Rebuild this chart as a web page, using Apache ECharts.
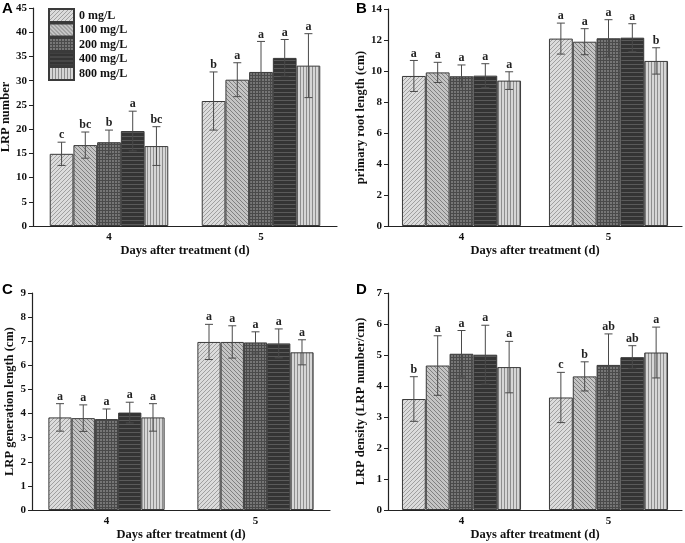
<!DOCTYPE html>
<html>
<head>
<meta charset="utf-8">
<script src="https://cdn.jsdelivr.net/npm/echarts@6/dist/echarts.min.js"></script>
<style>
  html, body { margin: 0; padding: 0; background: #fff; }
  #main { width: 685px; height: 543px; }
</style>
</head>
<body>
<div id="main"></div>
<script>
// concentrations and days
var concs = ['0 mg/L', '100 mg/L', '200 mg/L', '400 mg/L', '800 mg/L'];
var days = ['4', '5'];
var xTitle = 'Days after treatment (d)';

// A - LRP number (row = day, col = concentration)
var lrpMean = [[14.9, 16.7, 17.3, 19.6, 16.5], [25.8, 30.2, 31.8, 34.7, 33.1]];
var lrpSd = [[2.4, 2.7, 2.5, 4.1, 4.0], [6.0, 3.5, 6.3, 3.8, 6.6]];
var lrpSig = [['c', 'bc', 'b', 'a', 'bc'], ['b', 'a', 'a', 'a', 'a']];

// B - primary root length
var rootMean = [[9.68, 9.91, 9.66, 9.70, 9.38], [12.09, 11.89, 12.11, 12.15, 10.65]];
var rootSd = [[1.0, 0.65, 0.73, 0.77, 0.57], [1.0, 0.84, 1.2, 0.9, 0.85]];
var rootSig = [['a', 'a', 'a', 'a', 'a'], ['a', 'a', 'a', 'a', 'b']];

// C - LRP generation length
var genMean = [[3.84, 3.81, 3.77, 4.04, 3.84], [6.97, 6.97, 6.95, 6.91, 6.54]];
var genSd = [[0.57, 0.55, 0.42, 0.43, 0.57], [0.73, 0.67, 0.44, 0.6, 0.52]];
var genSig = [['a', 'a', 'a', 'a', 'a'], ['a', 'a', 'a', 'a', 'a']];

// D - LRP density
var denMean = [[3.58, 4.66, 5.04, 5.01, 4.61], [3.63, 4.31, 4.68, 4.93, 5.08]];
var denSd = [[0.72, 0.96, 0.75, 0.95, 0.83], [0.81, 0.47, 1.0, 0.37, 0.82]];
var denSig = [['b', 'a', 'a', 'a', 'a'], ['c', 'b', 'ab', 'ab', 'a']];

var serif = '"Liberation Serif", "DejaVu Serif", serif';

// fill patterns for the 5 concentrations
function makePattern(kind) {
    var c = document.createElement('canvas');
    var g = c.getContext('2d');
    if (kind == 0) {            // light, "/" hatch
        c.width = c.height = 4;
        g.fillStyle = '#dcdcdc'; g.fillRect(0, 0, 4, 4);
        g.strokeStyle = '#a0a0a0'; g.lineWidth = 1;
        g.beginPath(); g.moveTo(0, 4); g.lineTo(4, 0);
        g.moveTo(-1, 1); g.lineTo(1, -1); g.moveTo(3, 5); g.lineTo(5, 3); g.stroke();
    } else if (kind == 1) {     // mid, "\" hatch
        c.width = c.height = 4;
        g.fillStyle = '#c4c4c4'; g.fillRect(0, 0, 4, 4);
        g.strokeStyle = '#808080'; g.lineWidth = 1;
        g.beginPath(); g.moveTo(0, 0); g.lineTo(4, 4);
        g.moveTo(-1, 3); g.lineTo(1, 5); g.moveTo(3, -1); g.lineTo(5, 1); g.stroke();
    } else if (kind == 2) {     // dark dotted grid
        c.width = c.height = 3;
        g.fillStyle = '#767676'; g.fillRect(0, 0, 3, 3);
        g.fillStyle = '#4a4a4a'; g.fillRect(0, 0, 3, 1); g.fillRect(0, 0, 1, 3);
    } else if (kind == 3) {     // very dark, horizontal lines
        c.width = 4; c.height = 4;
        g.fillStyle = '#343434'; g.fillRect(0, 0, 4, 4);
        g.fillStyle = '#5a5a5a'; g.fillRect(0, 0, 4, 1);
    } else {                    // light, vertical lines
        c.width = 3; c.height = 4;
        g.fillStyle = '#d6d6d6'; g.fillRect(0, 0, 3, 4);
        g.fillStyle = '#8e8e8e'; g.fillRect(0, 0, 1, 4);
    }
    return { image: c, repeat: 'repeat' };
}
var patterns = [0, 1, 2, 3, 4].map(makePattern);

var panels = [
    { mean: lrpMean, sd: lrpSd, sig: lrpSig, name: 'LRP number', max: 45, step: 5, gap: 0.22, nameGap: 17,
      grid: { left: 33, top: 8, width: 304, height: 218 } },
    { mean: rootMean, sd: rootSd, sig: rootSig, name: 'primary root length (cm)', max: 14, step: 2, gap: 0.19, nameGap: 21,
      grid: { left: 388, top: 9, width: 294, height: 217 } },
    { mean: genMean, sd: genSd, sig: genSig, name: 'LRP generation length (cm)', max: 9, step: 1, gap: 0.22, nameGap: 15,
      grid: { left: 32, top: 293, width: 298, height: 217 } },
    { mean: denMean, sd: denSd, sig: denSig, name: 'LRP density (LRP number/cm)', max: 7, step: 1, gap: 0.19, nameGap: 21,
      grid: { left: 388, top: 293, width: 294, height: 217 } }
];

var axisLine = { lineStyle: { color: '#222', width: 1.2 } };
var tickLabel = { fontFamily: serif, fontWeight: 'bold', fontSize: 11, color: '#111' };
var titleFont = { fontFamily: serif, fontWeight: 'bold', fontSize: 12.5, color: '#111' };

var grids = [], xAxes = [], yAxes = [], series = [];

panels.forEach(function (p, pi) {
    grids.push(Object.assign({ outerBoundsMode: 'none', containLabel: false }, p.grid));
    xAxes.push({
        type: 'category', gridIndex: pi, data: days,
        axisLine: axisLine,
        axisTick: { alignWithLabel: true, length: 4, lineStyle: { color: '#222' } },
        axisLabel: Object.assign({ margin: 6 }, tickLabel),
        name: xTitle, nameLocation: 'middle', nameGap: 18, nameTextStyle: titleFont
    });
    yAxes.push({
        type: 'value', gridIndex: pi, min: 0, max: p.max, interval: p.step,
        axisLine: Object.assign({ show: true }, axisLine),
        axisTick: { show: true, length: 4, lineStyle: { color: '#222' } },
        axisLabel: Object.assign({ margin: 6 }, tickLabel),
        splitLine: { show: false },
        name: p.name, nameLocation: 'middle', nameRotate: 90, nameGap: p.nameGap, nameTextStyle: titleFont
    });

    concs.forEach(function (c, k) {
        series.push({
            name: c, type: 'bar', xAxisIndex: pi, yAxisIndex: pi,
            barGap: '0%', barCategoryGap: (p.gap * 100) + '%',
            data: days.map(function (d, di) { return p.mean[di][k]; }),
            itemStyle: { color: patterns[k], borderColor: '#3a3a3a', borderWidth: 1 },
            emphasis: { disabled: true }
        });
    });

    // error bars + significance letters
    var errData = [];
    days.forEach(function (d, di) {
        concs.forEach(function (c, k) {
            errData.push([di, p.mean[di][k], p.sd[di][k], k]);
        });
    });
    series.push({
        type: 'custom', xAxisIndex: pi, yAxisIndex: pi, z: 10, silent: true,
        data: errData,
        renderItem: function (params, api) {
            var di = api.value(0), m = api.value(1), s = api.value(2), k = api.value(3);
            var band = api.size([1, 0])[0];
            var groupW = band * (1 - p.gap), barW = groupW / 5;
            var x = api.coord([di, m])[0] - groupW / 2 + barW * (k + 0.5);
            var yTop = api.coord([di, m + s])[1];
            var yBot = api.coord([di, m - s])[1];
            var ls = { stroke: '#4a4a4a', lineWidth: 1 };
            return {
                type: 'group',
                children: [
                    { type: 'line', shape: { x1: x, y1: yTop, x2: x, y2: yBot }, style: ls },
                    { type: 'line', shape: { x1: x - 4, y1: yTop, x2: x + 4, y2: yTop }, style: ls },
                    { type: 'line', shape: { x1: x - 4, y1: yBot, x2: x + 4, y2: yBot }, style: ls },
                    { type: 'text', style: { text: p.sig[di][k], x: x, y: yTop - 1, align: 'center', verticalAlign: 'bottom',
                        font: 'bold 12px ' + serif, fill: '#222' } }
                ]
            };
        }
    });
});

var chart = echarts.init(document.getElementById('main'));
chart.setOption({
    animation: false,
    grid: grids,
    xAxis: xAxes,
    yAxis: yAxes,
    legend: {
        orient: 'vertical', left: 48, top: 8, padding: 0,
        itemWidth: 25, itemHeight: 13, itemGap: -0.5, icon: 'rect',
        data: concs,
        textStyle: { fontFamily: serif, fontWeight: 'bold', fontSize: 12, color: '#111' }
    },
    graphic: [
        { type: 'text', left: 2, top: 1, style: { text: 'A', font: 'bold 15px "Liberation Sans", Arial, sans-serif', fill: '#000' } },
        { type: 'text', left: 356, top: 1, style: { text: 'B', font: 'bold 15px "Liberation Sans", Arial, sans-serif', fill: '#000' } },
        { type: 'text', left: 2, top: 282, style: { text: 'C', font: 'bold 15px "Liberation Sans", Arial, sans-serif', fill: '#000' } },
        { type: 'text', left: 356, top: 282, style: { text: 'D', font: 'bold 15px "Liberation Sans", Arial, sans-serif', fill: '#000' } }
    ],
    series: series
});
</script>
</body>
</html>
